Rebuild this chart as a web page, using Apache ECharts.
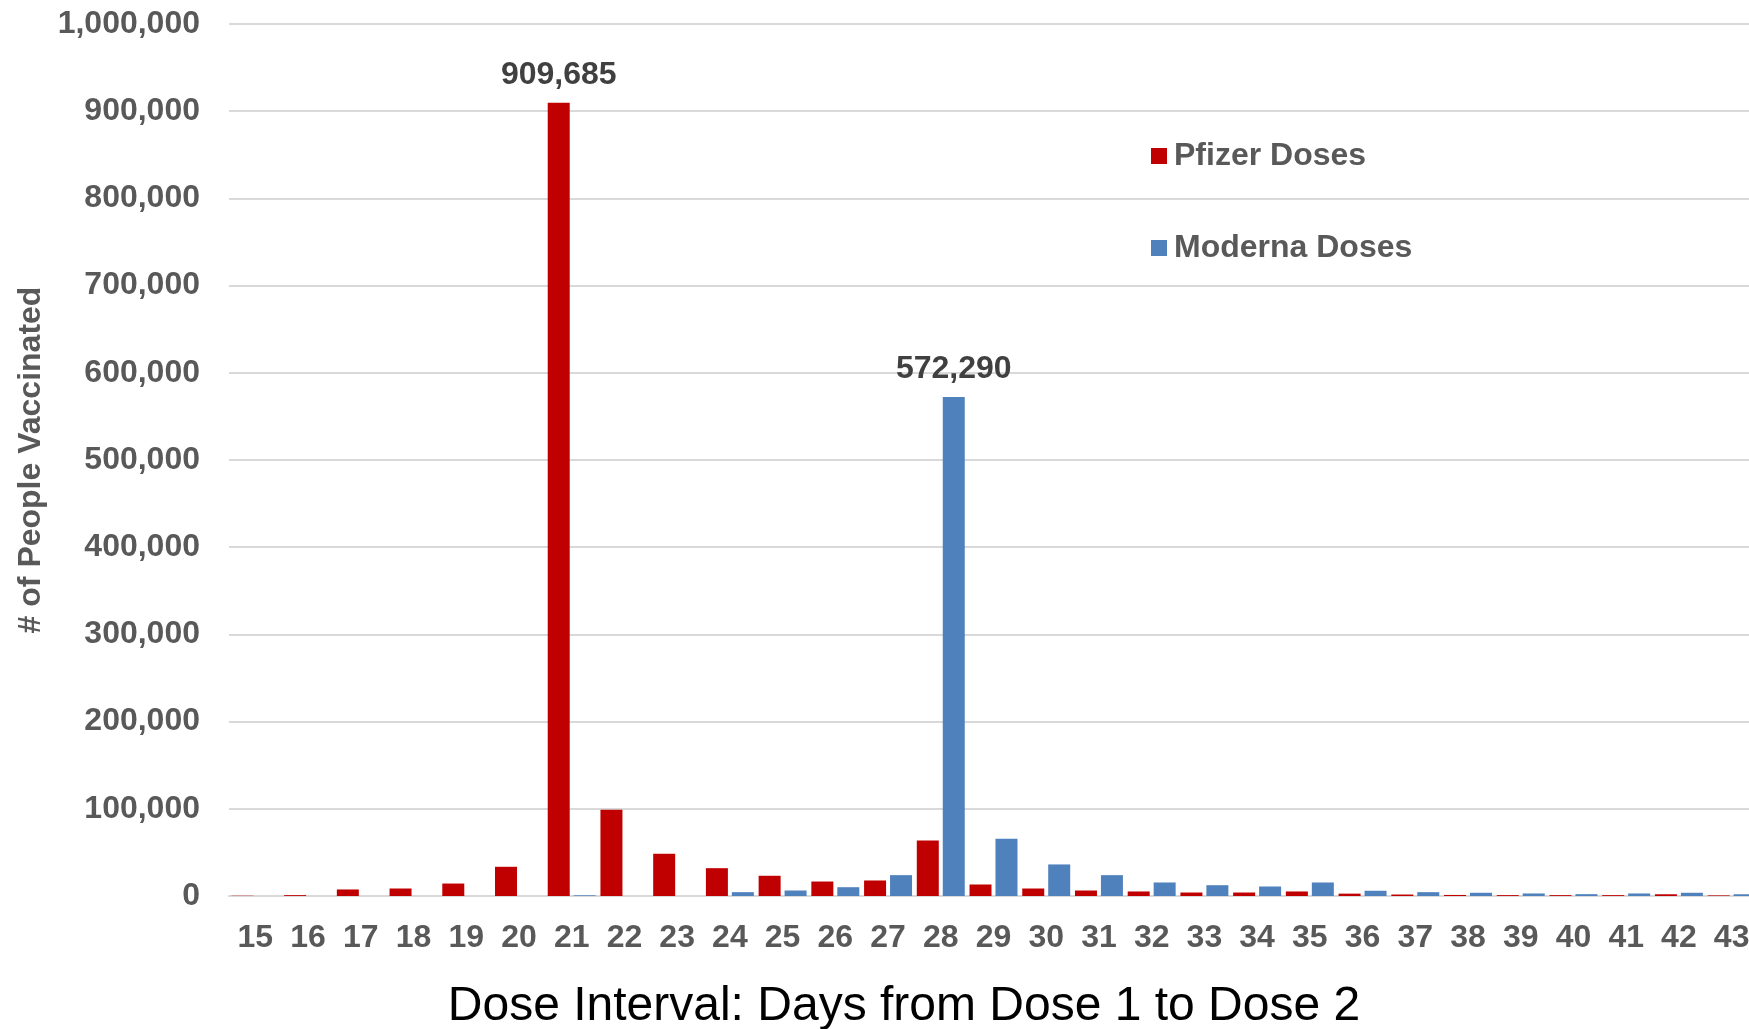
<!DOCTYPE html>
<html>
<head>
<meta charset="utf-8">
<script src="https://cdn.jsdelivr.net/npm/echarts@6/dist/echarts.min.js"></script>
<style>
html,body{margin:0;padding:0;background:#fff;}
#chart{width:1749px;height:1029px;}
</style>
</head>
<body>
<div id="chart"></div>
<script>
const days = ['15','16','17','18','19','20','21','22','23','24','25','26','27','28','29','30','31','32','33','34','35','36','37','38','39','40','41','42','43'];
const pfizerDoses = [300,1000,7500,8600,14300,33500,909685,99000,48500,31900,23200,16600,17800,63700,13200,8600,6300,5200,4000,4000,5200,2700,1700,1200,1000,1000,1000,2000,700];
const modernaDoses = [0,0,0,0,0,0,800,0,0,4400,6300,10100,23900,572290,65600,36200,23900,15500,12400,10900,15500,6000,4400,3700,2900,2100,2900,3700,2000];
const yTicks = [0,100000,200000,300000,400000,500000,600000,700000,800000,900000,1000000];

const FONT = '"Liberation Sans", Arial, sans-serif';
const GRAY = '#595959';

function withPeakLabel(values){
  const maxV = Math.max.apply(null, values);
  return values.map(v => v === maxV ? {
    value: v,
    label: {show: true, position: 'top', distance: 12, fontSize: 32, fontWeight: 'bold', color: '#404040', fontFamily: FONT,
      formatter: p => p.value.toLocaleString('en-US')}
  } : v);
}

const chart = echarts.init(document.getElementById('chart'));
chart.setOption({
  animation: false,
  backgroundColor: '#fff',
  grid: {left: 229, top: 24, width: 1529, height: 872, containLabel: false, outerBoundsMode: 'none'},
  legend: {
    orient: 'vertical', left: 1151, top: 140, padding: 0,
    itemWidth: 16, itemHeight: 16, itemGap: 60,
    icon: 'rect',
    textStyle: {fontSize: 32, fontWeight: 'bold', color: GRAY, fontFamily: FONT, padding: [0,0,0,2]},
    data: ['Pfizer Doses', 'Moderna Doses']
  },
  xAxis: {
    type: 'category', data: days,
    axisTick: {show: false},
    axisLine: {lineStyle: {color: '#D9D9D9', width: 2}},
    axisLabel: {fontSize: 32, fontWeight: 'bold', color: GRAY, fontFamily: FONT, margin: 26, interval: 0},
    name: 'Dose Interval: Days from Dose 1 to Dose 2',
    nameLocation: 'middle', nameGap: 87,
    nameTextStyle: {fontSize: 48, color: '#000', fontFamily: FONT, padding: [0, 179, 0, 0]}
  },
  yAxis: {
    type: 'value', min: 0, max: 1000000, interval: 100000,
    axisLine: {show: false}, axisTick: {show: false},
    splitLine: {lineStyle: {color: '#D9D9D9', width: 2}},
    axisLabel: {fontSize: 32, fontWeight: 'bold', color: GRAY, fontFamily: FONT, margin: 29,
      formatter: v => yTicks.indexOf(v) >= 0 ? v.toLocaleString('en-US') : ''},
    name: '# of People Vaccinated',
    nameLocation: 'middle', nameRotate: 90, nameGap: 175,
    nameTextStyle: {fontSize: 32, fontWeight: 'bold', color: GRAY, fontFamily: FONT}
  },
  series: [
    {name: 'Pfizer Doses', type: 'bar', data: withPeakLabel(pfizerDoses), barWidth: 22, barGap: '18%',
      itemStyle: {color: '#C00000'}},
    {name: 'Moderna Doses', type: 'bar', data: withPeakLabel(modernaDoses), barWidth: 22, barGap: '18%',
      itemStyle: {color: '#4F81BD'}}
  ]
});
</script>
</body>
</html>
